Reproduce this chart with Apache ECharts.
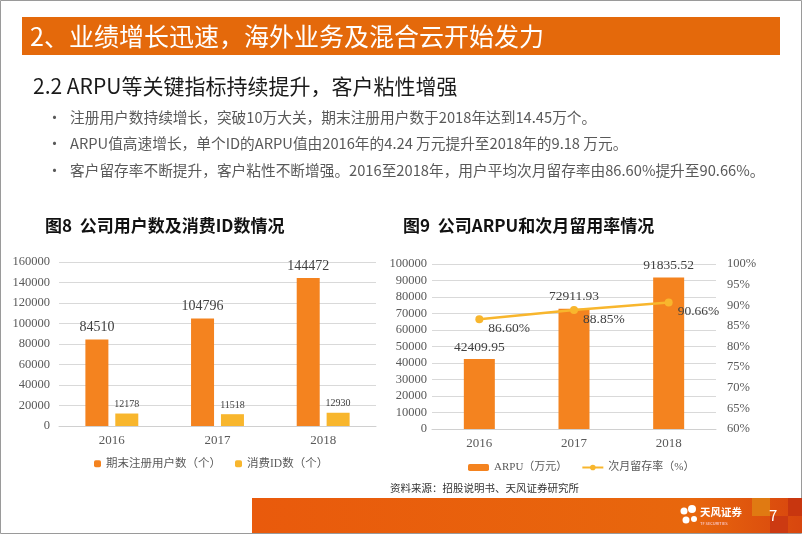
<!DOCTYPE html>
<html><head><meta charset="utf-8">
<script src="https://cdn.jsdelivr.net/npm/echarts@6/dist/echarts.min.js"></script>
<style>html,body{margin:0;padding:0;background:#fff;}#c{width:802px;height:535px;}</style>
</head><body><div id="c"></div>
<script>
const years = ['2016', '2017', '2018'];
const registeredUsers = [84510, 104796, 144472];
const consumerIds = [12178, 11518, 12930];
const arpu = [42409.95, 72911.93, 91835.52];
const retention = [86.60, 88.85, 90.66];
const leftTicks = {min: 0, max: 160000, interval: 20000};
const arpuTicks = {min: 0, max: 100000, interval: 10000};
const pctTicks = {min: 60, max: 100, interval: 5};

const ORANGE = '#F4831F', YELLOW = '#F8B62D';
const SERIF = "'Liberation Serif','Times New Roman',serif";
const CJK = "'Noto Sans CJK SC','Noto Sans',sans-serif";
const LEG = "'Liberation Serif','Noto Sans CJK SC',serif";
const GRAY = '#595959';

const chart = echarts.init(document.getElementById('c'), null, {renderer: 'canvas'});

const bullets = [
  '注册用户数持续增长，突破10万大关，期末注册用户数于2018年达到14.45万个。',
  'ARPU值高速增长，单个ID的ARPU值由2016年的4.24 万元提升至2018年的9.18 万元。',
  '客户留存率不断提升，客户粘性不断增强。2016至2018年，用户平均次月留存率由86.60%提升至90.66%。'
];
const bulletY = [117, 143, 170];

const graphics = [
  {type: 'rect', shape: {x: 0.5, y: 0.5, width: 801, height: 533}, style: {fill: 'none', stroke: '#9a9a9a', lineWidth: 1}, z: 0},
  {type: 'rect', shape: {x: 22, y: 17, width: 758, height: 38}, style: {fill: '#E4690B'}},
  {type: 'text', x: 30, y: 36, style: {text: '2、业绩增长迅速，海外业务及混合云开始发力', fill: '#fff', font: '25px ' + CJK, textVerticalAlign: 'middle'}},
  {type: 'text', x: 33, y: 86, style: {text: '2.2 ARPU等关键指标持续提升，客户粘性增强', fill: '#1a1a1a', font: '21px ' + CJK, textVerticalAlign: 'middle'}},
  {type: 'text', x: 45, y: 226, style: {text: '图8  公司用户数及消费ID数情况', fill: '#111', font: 'bold 17px ' + CJK, textVerticalAlign: 'middle'}},
  {type: 'text', x: 403, y: 226, style: {text: '图9  公司ARPU和次月留用率情况', fill: '#111', font: 'bold 17px ' + CJK, textVerticalAlign: 'middle'}},
  {type: 'text', x: 390, y: 488, style: {text: '资料来源：招股说明书、天风证券研究所', fill: '#333', font: '10.5px ' + CJK, textVerticalAlign: 'middle'}},
  {type: 'rect', shape: {x: 252, y: 498, width: 550, height: 35}, style: {fill: new echarts.graphic.LinearGradient(0, 0, 1, 0, [{offset: 0, color: '#E95A0C'}, {offset: 0.8, color: '#E8670D'}, {offset: 1, color: '#D8460E'}])}},
  {type: 'rect', shape: {x: 752, y: 498, width: 18, height: 18}, style: {fill: '#E07A12'}},
  {type: 'rect', shape: {x: 770, y: 516, width: 18, height: 17}, style: {fill: '#CC3A12'}},
  {type: 'rect', shape: {x: 788, y: 498, width: 14, height: 18}, style: {fill: '#C8360F'}},
  {type: 'text', x: 769, y: 515, style: {text: '7', fill: '#fff', font: '15px ' + CJK, textVerticalAlign: 'middle'}},
  {type: 'circle', shape: {cx: 684, cy: 511, r: 3.5}, style: {fill: '#fff'}},
  {type: 'circle', shape: {cx: 692, cy: 509, r: 4}, style: {fill: '#fff'}},
  {type: 'circle', shape: {cx: 686, cy: 520, r: 3.5}, style: {fill: '#fff'}},
  {type: 'circle', shape: {cx: 694, cy: 519, r: 3}, style: {fill: '#fff'}},
  {type: 'text', x: 700, y: 512, style: {text: '天风证券', fill: '#fff', font: 'bold 10.5px ' + CJK, textVerticalAlign: 'middle'}},
  {type: 'text', x: 700, y: 523, style: {text: 'TF SECURITIES', fill: '#fde', font: '4px ' + CJK, textVerticalAlign: 'middle'}}
];
bullets.forEach((t, i) => {
  graphics.push({type: 'text', x: 47, y: bulletY[i], style: {text: '•', fill: GRAY, font: '15px ' + CJK, textVerticalAlign: 'middle'}});
  graphics.push({type: 'text', x: 70, y: bulletY[i], style: {text: t, fill: GRAY, font: '14.7px ' + CJK, textVerticalAlign: 'middle'}});
});

const axisLabel = {color: GRAY, fontFamily: SERIF, fontSize: 12.5};
const splitLine = {show: true, lineStyle: {color: '#d9d9d9', width: 1}};
const plain = v => String(v);

chart.setOption({
  animation: false,
  graphic: graphics,
  grid: [
    {left: 59, right: 802 - 376, top: 262, bottom: 535 - 426},
    {left: 432, right: 802 - 716, top: 264, bottom: 535 - 429}
  ],
  legend: [
    {data: ['期末注册用户数（个）', '消费ID数（个）'], left: 89, top: 453, itemWidth: 7, itemHeight: 7, itemGap: 14,
     textStyle: {color: GRAY, fontFamily: LEG, fontSize: 11.5}},
    {data: ['ARPU（万元）', '次月留存率（%）'], left: 463, top: 457, itemWidth: 21, itemHeight: 7, itemGap: 14,
     textStyle: {color: GRAY, fontFamily: LEG, fontSize: 11}}
  ],
  xAxis: [
    {type: 'category', gridIndex: 0, data: years, axisTick: {show: false}, axisLine: {lineStyle: {color: '#d0d0d0'}}, axisLabel: Object.assign({}, axisLabel, {margin: 8, fontSize: 13})},
    {type: 'category', gridIndex: 1, data: years, axisTick: {show: false}, axisLine: {lineStyle: {color: '#d0d0d0'}}, axisLabel: Object.assign({}, axisLabel, {margin: 8, fontSize: 13})}
  ],
  yAxis: [
    {type: 'value', gridIndex: 0, min: leftTicks.min, max: leftTicks.max, interval: leftTicks.interval, axisLine: {show: false}, axisTick: {show: false}, splitLine, axisLabel: Object.assign({}, axisLabel, {margin: 9, formatter: plain})},
    {type: 'value', gridIndex: 1, min: arpuTicks.min, max: arpuTicks.max, interval: arpuTicks.interval, axisLine: {show: false}, axisTick: {show: false}, splitLine, axisLabel: Object.assign({}, axisLabel, {margin: 5, formatter: plain})},
    {type: 'value', gridIndex: 1, position: 'right', min: pctTicks.min, max: pctTicks.max, interval: pctTicks.interval, axisLine: {show: false}, axisTick: {show: false}, splitLine: {show: false}, axisLabel: Object.assign({}, axisLabel, {margin: 11, formatter: '{value}%'})}
  ],
  series: [
    {name: '期末注册用户数（个）', type: 'bar', xAxisIndex: 0, yAxisIndex: 0, data: registeredUsers, barWidth: 23, barGap: '30%',
     itemStyle: {color: ORANGE}, label: {show: true, position: 'top', distance: 5, color: '#404040', fontFamily: SERIF, fontSize: 14}},
    {name: '消费ID数（个）', type: 'bar', xAxisIndex: 0, yAxisIndex: 0, data: consumerIds, barWidth: 23, barGap: '30%',
     itemStyle: {color: YELLOW}, label: {show: true, position: 'top', distance: 4, color: '#404040', fontFamily: SERIF, fontSize: 10}},
    {name: 'ARPU（万元）', type: 'bar', xAxisIndex: 1, yAxisIndex: 1, data: arpu, barWidth: 31,
     itemStyle: {color: ORANGE}, label: {show: true, position: 'top', distance: 5, color: '#404040', fontFamily: SERIF, fontSize: 13.5,
       formatter: p => p.value.toFixed(2)}},
    {name: '次月留存率（%）', type: 'line', xAxisIndex: 1, yAxisIndex: 2, data: retention, symbol: 'circle', symbolSize: 8,
     lineStyle: {color: YELLOW, width: 2.5}, itemStyle: {color: YELLOW},
     label: {show: true, position: 'right', distance: 5, offset: [0, 9], color: '#404040', fontFamily: SERIF, fontSize: 13.5,
       formatter: p => p.value.toFixed(2) + '%'}}
  ]
});
</script></body></html>
